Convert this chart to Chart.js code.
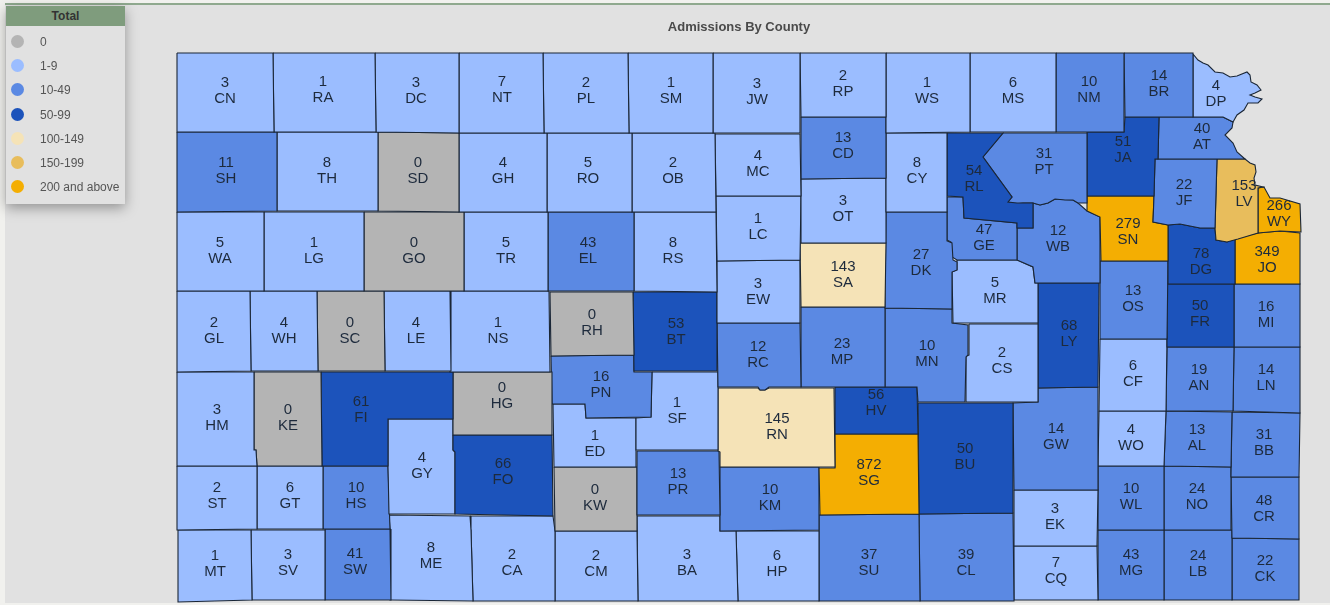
<!DOCTYPE html>
<html>
<head>
<meta charset="utf-8">
<title>Admissions By County</title>
<script src="https://cdn.jsdelivr.net/npm/chart.js@4"></script>
<style>
  html, body { margin: 0; padding: 0; background: #f1f1ee; }
  #page { position: relative; width: 1330px; height: 605px; overflow: hidden; }
  #panel { position: absolute; left: 5px; top: 5px; width: 1325px; height: 598px; background: #e1e1e1; }
  #rule { position: absolute; left: 5px; top: 3px; width: 1325px; height: 2px; background: #8fa98e; }
  #map { position: absolute; left: 0; top: 0; filter: blur(0.35px); }
  #heading { position: absolute; left: 539px; width: 400px; top: 19px; text-align: center; font: bold 13px "Liberation Sans", Arial, sans-serif; color: #4a4a4a; }
  #legend { position: absolute; left: 6px; top: 6px; width: 119px; height: 198px; background: #e1e1e1; box-shadow: 0 4px 12px rgba(0,0,0,.35); font: 12px "Liberation Sans", Arial, sans-serif; color: #555; }
  #legend h4 { margin: 0; height: 20px; line-height: 20px; background: #7f9c7d; color: #333; font-size: 12px; font-weight: bold; text-align: center; }
  #legend div { position: absolute; left: 34px; height: 14px; line-height: 14px; white-space: nowrap; }
  #legend i { position: absolute; left: -29px; top: 0; width: 13px; height: 13px; border-radius: 50%; }
</style>
</head>
<body>
<div id="page">
  <div id="panel"></div>
  <div id="rule"></div>
  <canvas id="map" width="1330" height="605"></canvas>
  <div id="heading">Admissions By County</div>
  <div id="legend"><h4>Total</h4></div>
</div>
<script>
const binLabels = ["0", "1-9", "10-49", "50-99", "100-149", "150-199", "200 and above"];
const binFloors = [0, 1, 10, 50, 100, 150, 200];
const binColors = ["#b4b4b4", "#9bbdff", "#5b89e3", "#1c53bb", "#f5e3b7", "#e8bd5c", "#f4ae02"];

const counties = [
  "CN", "RA", "DC", "NT", "PL", "SM", "JW", "RP", "WS", "MS", "NM", "BR", "DP",
  "SH", "TH", "SD", "GH", "RO", "OB", "MC", "CD", "CY", "OT", "RL", "PT", "JA", "AT", "JF", "LV", "WY", "SN",
  "WA", "LG", "GO", "TR", "EL", "RS", "LC", "SA", "DK", "GE", "WB", "MR", "DG", "JO", "EW",
  "GL", "WH", "SC", "LE", "NS", "RH", "BT", "RC", "MP", "MN", "CS", "LY", "OS", "FR", "MI",
  "HM", "KE", "FI", "HG", "PN", "SF", "ED", "RN", "HV", "FO", "GY", "SG", "BU", "GW", "CF", "AN", "LN", "WO", "AL", "BB",
  "ST", "GT", "HS", "PR", "KW", "KM", "EK", "WL", "NO", "CR",
  "MT", "SV", "SW", "ME", "CA", "CM", "BA", "HP", "SU", "CL", "CQ", "MG", "LB", "CK",
];

const admissions = [
  3, 1, 3, 7, 2, 1, 3, 2, 1, 6, 10, 14, 4,
  11, 8, 0, 4, 5, 2, 4, 13, 8, 3, 54, 31, 51, 40, 22, 153, 266, 279,
  5, 1, 0, 5, 43, 8, 1, 143, 27, 47, 12, 5, 78, 349, 3,
  2, 4, 0, 4, 1, 0, 53, 12, 23, 10, 2, 68, 13, 50, 16,
  3, 0, 61, 0, 16, 1, 1, 145, 56, 66, 4, 872, 50, 14, 6, 19, 14, 4, 13, 31,
  2, 6, 10, 13, 0, 10, 3, 10, 24, 48,
  1, 3, 41, 8, 2, 2, 3, 6, 37, 39, 7, 43, 24, 22,
];

// county outlines, same order as counties
const outlines = [
  [[177,53],[273,53],[274,132],[177,132]],
  [[273,53],[375,53],[376,132],[274,132]],
  [[375,53],[459,53],[459,133],[376,132]],
  [[459,53],[543,53],[544,133],[459,133]],
  [[543,53],[628,53],[629,133],[544,133]],
  [[628,53],[713,53],[713,133],[629,133]],
  [[713,53],[800,53],[800,133],[713,133]],
  [[800,53],[886,53],[886,117],[801,117]],
  [[886,53],[970,53],[970,132],[886,133]],
  [[970,53],[1056,53],[1056,132],[970,132]],
  [[1056,53],[1124,53],[1124,132],[1056,132]],
  [[1124,53],[1193,53],[1193,117],[1125,117]],
  [[1193,54],[1198,60],[1203,63],[1208,65],[1215,72],[1223,73],[1230,77],[1237,76],[1247,72],[1250,75],[1251,82],[1257,85],[1261,90],[1255,93],[1250,95],[1255,97],[1262,99],[1258,103],[1248,103],[1244,110],[1237,115],[1233,122],[1223,117],[1193,117]],

  [[177,132],[277,132],[277,211],[177,212]],
  [[277,132],[378,132],[378,211],[277,211]],
  [[378,132],[459,133],[459,212],[378,211]],
  [[459,133],[547,133],[547,212],[459,212]],
  [[547,133],[632,133],[632,212],[547,212]],
  [[632,133],[715,133],[716,212],[632,212]],
  [[715,134],[800,134],[801,196],[716,196]],
  [[801,117],[886,117],[886,178],[801,179]],
  [[886,133],[947,133],[947,212],[886,212]],
  [[801,179],[886,178],[886,243],[801,243]],
  [[947,133],[1003,133],[983,157],[1012,197],[1008,202],[1017,203],[1033,203],[1033,228],[1017,228],[1017,223],[964,218],[963,197],[947,196]],
  [[1003,133],[1087,133],[1087,203],[1078,203],[1073,200],[1065,200],[1055,199],[1048,203],[1040,205],[1033,203],[1023,203],[1015,204],[1008,202],[1012,197],[983,157]],
  [[1087,132],[1124,132],[1125,117],[1159,117],[1158,159],[1155,159],[1154,196],[1087,196]],
  [[1159,117],[1223,117],[1233,122],[1232,128],[1225,135],[1233,143],[1237,152],[1245,159],[1158,159]],
  [[1155,159],[1217,159],[1215,228],[1200,228],[1180,224],[1168,225],[1153,222],[1154,196]],
  [[1217,159],[1245,159],[1250,163],[1255,165],[1256,172],[1254,178],[1255,185],[1263,187],[1258,188],[1258,233],[1238,239],[1227,242],[1216,240],[1215,228]],
  [[1258,188],[1264,187],[1270,198],[1280,198],[1300,204],[1301,232],[1280,231],[1258,233]],
  [[1087,196],[1154,196],[1153,222],[1168,225],[1168,261],[1101,261],[1100,217],[1087,211],[1087,203]],

  [[177,212],[264,212],[264,291],[177,291]],
  [[264,212],[364,212],[364,291],[264,291]],
  [[364,212],[464,212],[464,291],[364,291]],
  [[464,212],[548,212],[548,291],[464,291]],
  [[548,212],[634,212],[634,291],[548,291]],
  [[634,212],[716,212],[717,292],[634,291]],
  [[716,196],[801,196],[800,260],[717,261]],
  [[800,243],[886,243],[885,307],[801,307]],
  [[886,212],[947,212],[947,241],[952,243],[953,260],[957,262],[957,270],[952,272],[952,309],[885,308]],
  [[947,197],[963,197],[964,218],[1017,223],[1017,260],[957,260],[952,257],[951,242],[947,240]],
  [[1033,203],[1040,205],[1048,203],[1055,199],[1073,200],[1078,203],[1087,211],[1100,217],[1100,283],[1035,283],[1033,267],[1017,260],[1017,228],[1033,228]],
  [[957,260],[1017,260],[1033,267],[1035,283],[1038,283],[1038,323],[953,323],[952,272],[957,270]],
  [[1168,225],[1180,224],[1200,228],[1215,228],[1216,240],[1227,242],[1235,239],[1235,284],[1168,284]],
  [[1235,238],[1258,233],[1280,231],[1300,233],[1300,284],[1235,284]],
  [[717,261],[800,260],[800,323],[717,323]],

  [[177,291],[250,291],[251,371],[177,372]],
  [[250,291],[317,291],[318,371],[251,371]],
  [[317,291],[384,291],[385,371],[318,371]],
  [[384,291],[450,291],[451,371],[385,371]],
  [[450,291],[549,291],[550,372],[451,372]],
  [[550,292],[633,292],[634,355],[551,356]],
  [[633,292],[717,292],[717,371],[634,371]],
  [[717,323],[800,323],[801,387],[769,387],[765,390],[760,390],[758,387],[718,387]],
  [[801,307],[885,307],[885,387],[801,387]],
  [[885,308],[952,309],[952,323],[968,325],[968,355],[966,357],[965,402],[918,402],[917,387],[885,387]],
  [[969,324],[1038,324],[1038,402],[966,402],[966,356],[969,355]],
  [[1038,283],[1099,283],[1098,387],[1038,388]],
  [[1100,261],[1168,261],[1167,339],[1100,339]],
  [[1167,284],[1234,284],[1234,347],[1167,347]],
  [[1234,284],[1300,284],[1300,347],[1234,347]],

  [[177,372],[254,372],[254,450],[256,450],[257,466],[177,466]],
  [[254,372],[321,372],[322,466],[257,466],[256,450],[254,450]],
  [[321,372],[453,372],[453,419],[388,419],[388,466],[322,466]],
  [[453,372],[552,372],[552,435],[453,435]],
  [[551,356],[634,355],[634,372],[652,372],[651,417],[586,418],[585,404],[552,404]],
  [[652,372],[718,372],[718,450],[636,450],[636,418],[651,417]],
  [[553,404],[585,404],[586,418],[636,418],[636,467],[554,467]],
  [[718,388],[758,388],[760,390],[765,390],[769,388],[834,388],[835,467],[720,467],[720,452],[718,451]],
  [[835,387],[917,387],[918,434],[835,434]],
  [[453,435],[552,435],[553,516],[455,514],[455,452],[453,450]],
  [[388,419],[453,419],[453,450],[455,452],[455,514],[389,514],[388,466]],
  [[835,434],[918,434],[919,514],[820,515],[819,468],[835,468]],
  [[918,403],[1013,403],[1013,513],[919,514]],
  [[1038,388],[1098,387],[1098,490],[1014,490],[1013,403],[1038,402]],
  [[1100,339],[1167,339],[1166,411],[1099,411]],
  [[1167,347],[1234,347],[1233,411],[1166,411]],
  [[1234,347],[1300,347],[1300,413],[1233,411]],
  [[1099,411],[1166,411],[1164,466],[1098,466]],
  [[1166,411],[1232,412],[1231,467],[1164,466]],
  [[1232,412],[1300,413],[1299,477],[1231,477]],

  [[177,466],[257,466],[257,529],[177,530]],
  [[257,466],[323,466],[323,529],[257,529]],
  [[323,466],[388,466],[390,529],[323,529]],
  [[637,451],[719,451],[720,515],[637,515]],
  [[554,467],[637,467],[637,531],[555,531]],
  [[720,467],[819,467],[819,530],[720,531]],
  [[1014,490],[1098,490],[1097,546],[1014,546]],
  [[1098,466],[1164,466],[1164,530],[1098,530]],
  [[1164,466],[1231,467],[1231,530],[1164,530]],
  [[1231,477],[1299,477],[1299,539],[1232,538]],

  [[178,530],[251,530],[252,600],[178,602]],
  [[251,530],[325,530],[325,600],[252,600]],
  [[325,529],[390,529],[391,600],[325,600]],
  [[389,515],[470,516],[471,530],[473,601],[391,600],[390,529]],
  [[470,516],[553,516],[555,531],[555,601],[473,601],[471,530]],
  [[555,531],[637,531],[638,601],[555,601]],
  [[637,516],[720,516],[720,531],[736,531],[738,601],[638,601]],
  [[736,531],[819,531],[819,601],[738,601]],
  [[819,515],[919,514],[920,601],[819,601]],
  [[919,514],[1013,513],[1014,601],[920,601]],
  [[1014,546],[1097,546],[1098,600],[1014,600]],
  [[1098,530],[1164,530],[1164,600],[1098,600]],
  [[1164,530],[1232,530],[1232,600],[1164,600]],
  [[1232,538],[1299,539],[1299,600],[1232,600]],
];

// where each county's two line label is centred
const labelSpots = [
  [225,91],[323,90],[416,91],[502,90],[586,91],[671,91],[757,92],[843,84],[927,91],[1013,91],[1089,90],[1159,84],[1216,94],
  [226,171],[327,171],[418,171],[503,171],[588,171],[673,171],[758,164],[843,146],[917,171],[843,209],[974,179],[1044,162],[1123,150],[1202,137],[1184,193],[1244,194],[1279,214],[1128,232],
  [220,251],[314,251],[414,251],[506,251],[588,251],[673,251],[758,227],[843,275],[921,263],[984,238],[1058,239],[995,291],[1201,262],[1267,260],[758,292],
  [214,331],[284,331],[350,331],[416,331],[498,331],[592,323],[676,332],[758,355],[842,352],[927,354],[1002,361],[1069,334],[1133,299],[1200,314],[1266,315],
  [217,418],[288,418],[361,410],[502,396],[601,385],[677,411],[595,444],[777,427],[876,403],[503,472],[422,466],[869,473],[965,457],[1056,437],[1133,374],[1199,378],[1266,378],[1131,438],[1197,438],[1264,443],
  [217,496],[290,496],[356,496],[678,482],[595,498],[770,498],[1055,517],[1131,497],[1197,497],[1264,509],
  [215,564],[288,563],[355,562],[431,556],[512,563],[596,564],[687,563],[777,564],[869,563],[966,563],[1056,571],[1131,563],[1198,564],[1265,569],
];

const colorFor = (value) => {
  let color = binColors[0];
  binFloors.forEach((floor, i) => {
    if (value >= floor) color = binColors[i];
  });
  return color;
};

const countyLabels = {
  id: "countyLabels",
  afterDatasetsDraw(chart) {
    const { ctx, scales } = chart;
    ctx.save();
    ctx.font = '15px "Liberation Sans", Arial, sans-serif';
    ctx.fillStyle = "#1d2a3c";
    ctx.textAlign = "center";
    ctx.textBaseline = "middle";
    counties.forEach((code, i) => {
      const x = scales.x.getPixelForValue(labelSpots[i][0]);
      const y = scales.y.getPixelForValue(labelSpots[i][1]);
      ctx.fillText(String(admissions[i]), x, y - 8);
      ctx.fillText(code, x, y + 8);
    });
    ctx.restore();
  },
};

const legend = document.getElementById("legend");
const rowTops = [29, 53, 77, 102, 126, 150, 174];
binLabels.forEach((label, i) => {
  const row = document.createElement("div");
  row.style.top = rowTops[i] + "px";
  row.textContent = label;
  const dot = document.createElement("i");
  dot.style.background = binColors[i];
  row.appendChild(dot);
  legend.appendChild(row);
});

new Chart(document.getElementById("map"), {
  type: "scatter",
  data: {
    datasets: counties.map((code, i) => ({
      label: code,
      data: outlines[i].concat([outlines[i][0]]).map(([x, y]) => ({ x, y })),
      showLine: true,
      fill: "shape",
      tension: 0,
      backgroundColor: colorFor(admissions[i]),
      borderColor: "#1a2636",
      borderWidth: 1.1,
      pointRadius: 0,
    })),
  },
  options: {
    responsive: false,
    animation: false,
    layout: { padding: 0 },
    plugins: {
      legend: { display: false },
      tooltip: { enabled: false },
    },
    scales: {
      x: { type: "linear", display: false, min: 0, max: 1330 },
      y: { type: "linear", display: false, min: 0, max: 605, reverse: true },
    },
  },
  plugins: [countyLabels],
});
</script>
</body>
</html>
